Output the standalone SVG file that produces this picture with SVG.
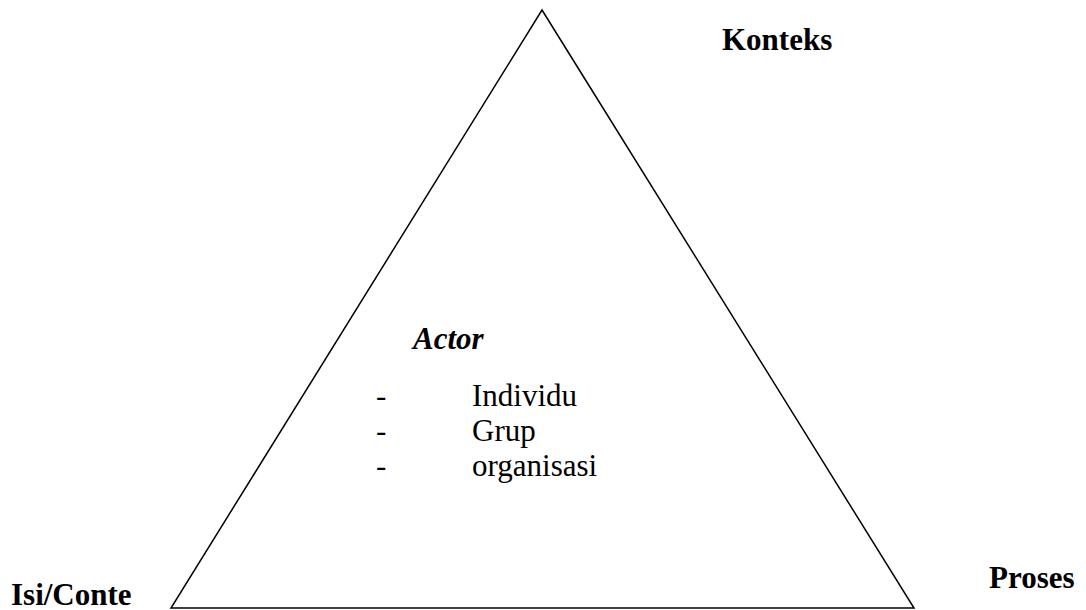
<svg xmlns="http://www.w3.org/2000/svg" width="1086" height="610" viewBox="0 0 1086 610">
<style>
.lbl{font-family:"Liberation Serif","Times New Roman",serif;font-size:31px;fill:#000}
.b{font-weight:bold}
.bi{font-weight:bold;font-style:italic}
.edge{fill:none;stroke:#000;stroke-width:1.5}
</style>
<rect width="1086" height="610" fill="#fff"/>
<g id="connectors">
<polygon class="edge" points="542,10 914,608 171,608"/>
</g>
<g id="node-konteks"><text class="lbl b" x="722" y="50">Konteks</text></g>
<g id="node-isi"><text class="lbl b" x="11" y="605">Isi/Conte</text></g>
<g id="node-proses"><text class="lbl b" x="989" y="588">Proses</text></g>
<g id="node-actor">
<text class="lbl bi" x="413" y="349">Actor</text>
<text class="lbl" x="376" y="406">-</text>
<text class="lbl" x="472" y="406">Individu</text>
<text class="lbl" x="376" y="441">-</text>
<text class="lbl" x="472" y="441">Grup</text>
<text class="lbl" x="376" y="476">-</text>
<text class="lbl" x="472" y="476">organisasi</text>
</g>
</svg>
